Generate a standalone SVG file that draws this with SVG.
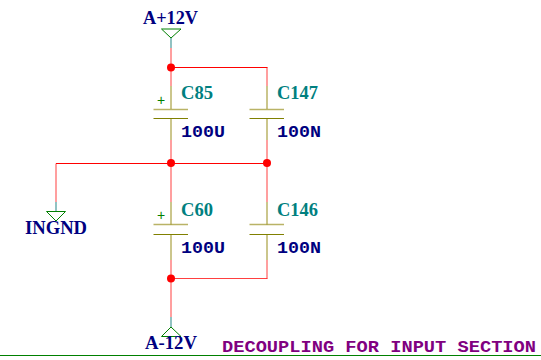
<svg xmlns="http://www.w3.org/2000/svg" width="541" height="360" viewBox="0 0 541 360">
<style>
.w{stroke:#ff0000;stroke-width:1.500;fill:none;opacity:.5}
.h{stroke:#f00;stroke-width:1;fill:none}
.p{stroke:#a8a040;stroke-width:1.500;fill:none;opacity:.8}
.t{stroke:#2e8b8b;stroke-width:1.500;fill:none;opacity:.7}
.s{stroke:#008000;stroke-width:1;fill:none}
.pl{stroke:#808000;stroke-width:1;fill:none}
.j{fill:#f00}
.ref{font:bold 18px "Liberation Serif",serif;fill:#008080}
.val{font:bold 16px "Liberation Mono",monospace;fill:#000080}
.pw{font:bold 18px "Liberation Serif",serif;fill:#000080}
.plus{font:14px "Liberation Sans",sans-serif;fill:#008000}
</style>
<g id="connectors">
<path class="h" d="M171.500 67.500H267.500M56 163.500H267.500"/>
<path class="h" style="opacity:.75" d="M171.500 278.500H267.500"/>
<path class="w" d="M171 48V86M267 67.500V86M171 140V202M267 140V202M56 163.500V202M171 260V317M267 260V278.500"/>
<path class="p" d="M171 86V109M267 86V109M171 119V140M267 119V140M171 202V225M267 202V225M171 234V260M267 234V260"/>
<path class="t" d="M171 38V48M56 202V211M171 317V327"/>
<circle class="j" cx="171" cy="67.500" r="4"/>
<circle class="j" cx="171" cy="163" r="4"/>
<circle class="j" cx="267" cy="163" r="4"/>
<circle class="j" cx="171" cy="278.500" r="4"/>
</g>
<g id="A12P"><text class="pw" x="143" y="24" textLength="55" lengthAdjust="spacingAndGlyphs">A+12V</text><path class="s" d="M161.500 29H181L171 38Z"/></g>
<g id="AM12"><path class="s" d="M161.500 336.500H181L171 327Z"/><text class="pw" x="145" y="349" textLength="52" lengthAdjust="spacingAndGlyphs">A-12V</text></g>
<g id="INGND"><path class="s" d="M46.500 211.500H65.500L56 221Z"/><text class="pw" x="25" y="234" textLength="62" lengthAdjust="spacingAndGlyphs">INGND</text></g>
<g id="C85"><path class="p" d="M153.500 109.500H188"/><path class="pl" d="M153.500 118.500H188"/><text class="plus" x="157" y="105">+</text><text class="ref" x="181" y="99" textLength="32" lengthAdjust="spacingAndGlyphs">C85</text><text class="val" x="181" y="137" textLength="44" lengthAdjust="spacingAndGlyphs">100U</text></g>
<g id="C147"><path class="p" d="M249.500 109.500H284"/><path class="pl" d="M249.500 118.500H284"/><text class="ref" x="277" y="99" textLength="41" lengthAdjust="spacingAndGlyphs">C147</text><text class="val" x="277" y="137" textLength="44" lengthAdjust="spacingAndGlyphs">100N</text></g>
<g id="C60"><path class="p" d="M153.500 224.500H188"/><path class="pl" d="M153.500 234.500H188"/><text class="plus" x="157" y="220">+</text><text class="ref" x="181" y="216" textLength="32" lengthAdjust="spacingAndGlyphs">C60</text><text class="val" x="181" y="253" textLength="44" lengthAdjust="spacingAndGlyphs">100U</text></g>
<g id="C146"><path class="p" d="M249.500 224.500H284"/><path class="pl" d="M249.500 234.500H284"/><text class="ref" x="277" y="216" textLength="41" lengthAdjust="spacingAndGlyphs">C146</text><text class="val" x="277" y="253" textLength="44" lengthAdjust="spacingAndGlyphs">100N</text></g>
<g id="title"><text x="222" y="352" textLength="314" lengthAdjust="spacingAndGlyphs" style="font:bold 16px 'Liberation Mono',monospace;fill:#800080">DECOUPLING FOR INPUT SECTION</text><path class="s" d="M0 355.500H541"/></g>
</svg>
